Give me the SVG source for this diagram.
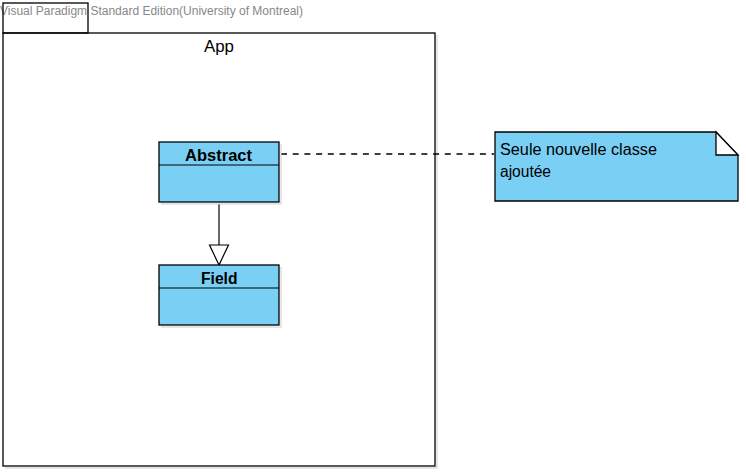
<svg xmlns="http://www.w3.org/2000/svg" width="746" height="474" viewBox="0 0 746 474">
<defs>
<style>
.t{font-family:"Liberation Sans",Arial,sans-serif;fill:#000}
.cls{fill:#7ACFF5;stroke:#000;stroke-width:1.3}
.sh{fill:none;stroke:#ccc;stroke-width:1}
.ln{stroke:#000;stroke-width:1.2;fill:none}
</style>
</defs>
<rect width="746" height="474" fill="#fff"/>
<text class="t" x="0" y="15" font-size="12" textLength="303" lengthAdjust="spacingAndGlyphs" style="fill:#888">Visual Paradigm Standard Edition(University of Montreal)</text>
<g id="package-App">
<polyline class="sh" points="437,35 437,468 5,468"/>
<rect x="3" y="3" width="85" height="30" fill="none" stroke="#000" stroke-width="1.3"/>
<rect x="3" y="33" width="432" height="433" fill="none" stroke="#000" stroke-width="1.3"/>
<text class="t" x="204" y="52" font-size="16" textLength="30" lengthAdjust="spacingAndGlyphs">App</text>
</g>
<g id="connectors">
<line class="ln" x1="219" y1="204" x2="219" y2="245"/>
<polygon points="209.5,245 228.5,245 219,265" fill="#fff" stroke="#000" stroke-width="1.2"/>
<line x1="281" y1="154" x2="494" y2="154" stroke="#000" stroke-width="1.3" stroke-dasharray="6,5.7"/>
</g>
<g id="class-Abstract">
<polyline class="sh" points="281,144 281,204 161,204"/>
<rect class="cls" x="159" y="142" width="120" height="60"/>
<line class="ln" x1="159" y1="165" x2="279" y2="165"/>
<text class="t" x="185" y="160.5" font-size="16" font-weight="bold" textLength="67" lengthAdjust="spacingAndGlyphs">Abstract</text>
</g>
<g id="class-Field">
<polyline class="sh" points="281,267 281,327 161,327"/>
<rect class="cls" x="159" y="265" width="120" height="60"/>
<line class="ln" x1="159" y1="288" x2="279" y2="288"/>
<text class="t" x="201" y="283.5" font-size="16" font-weight="bold" textLength="36.5" lengthAdjust="spacingAndGlyphs">Field</text>
</g>
<g id="note">
<polygon points="495,132 716,132 738,155 738,201 495,201" fill="#7ACFF5" stroke="#000" stroke-width="1.3"/>
<polygon points="716,132 738,155 716,155" fill="#fff" stroke="#000" stroke-width="1.3"/>
<text class="t" x="500" y="154.5" font-size="16" textLength="157" lengthAdjust="spacingAndGlyphs">Seule nouvelle classe</text>
<text class="t" x="500" y="176.7" font-size="16" textLength="51" lengthAdjust="spacingAndGlyphs">ajoutée</text>
</g>
</svg>
